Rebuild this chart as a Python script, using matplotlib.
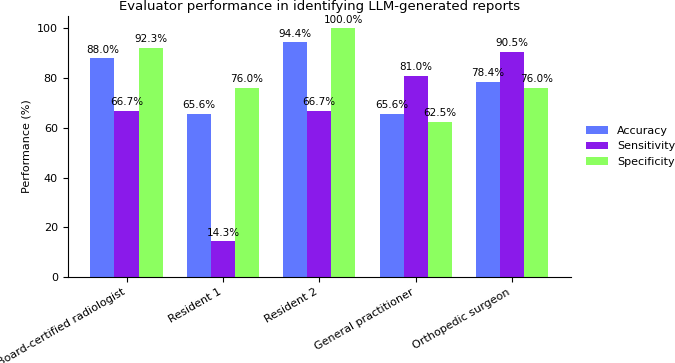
import matplotlib
matplotlib.use("Agg")
import matplotlib.pyplot as plt
import numpy as np

# data
evaluators = ["Board-certified radiologist", "Resident 1", "Resident 2",
              "General practitioner", "Orthopedic surgeon"]
accuracy = [88.0, 65.6, 94.4, 65.6, 78.4]
sensitivity = [66.7, 14.3, 66.7, 81.0, 90.5]
specificity = [92.3, 76.0, 100.0, 62.5, 76.0]

series = [("Accuracy", accuracy, "#6078ff"),
          ("Sensitivity", sensitivity, "#8a1aea"),
          ("Specificity", specificity, "#8cff60")]

fig, ax = plt.subplots(figsize=(6.75, 3.63), dpi=100)
fig.subplots_adjust(left=0.1, right=0.846, bottom=0.237, top=0.956)

x = np.arange(len(evaluators))
w = 0.25
for i, (name, vals, col) in enumerate(series):
    bars = ax.bar(x + (i - 1) * w, vals, w, color=col, label=name)
    for b, v in zip(bars, vals):
        ax.text(b.get_x() + b.get_width() / 2, v + 1.5, f"{v:.1f}%",
                ha="center", va="bottom", fontsize=7.5)

ax.set_ylim(0, 105)
ax.set_xticks(x)
ax.set_xticklabels(evaluators, rotation=30, ha="right", fontsize=8)
ax.tick_params(axis="y", labelsize=8)
ax.set_ylabel("Performance (%)", fontsize=8)
ax.set_title("Evaluator performance in identifying LLM-generated reports", fontsize=9.5, pad=4)
ax.spines["top"].set_visible(False)
ax.spines["right"].set_visible(False)
ax.legend(loc="center left", bbox_to_anchor=(1.01, 0.5), frameon=False, fontsize=8)

plt.savefig("out.png", dpi=100)
